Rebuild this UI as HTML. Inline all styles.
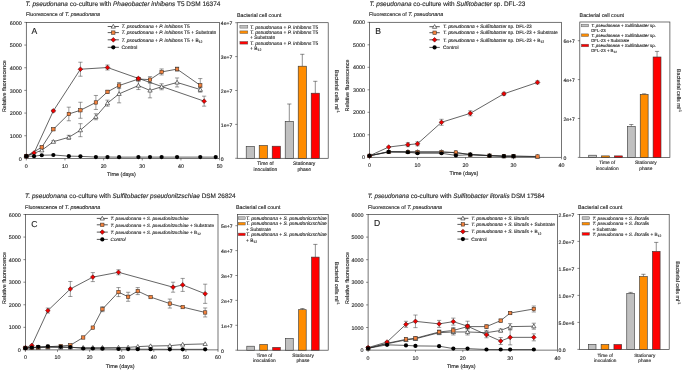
<!DOCTYPE html>
<html><head><meta charset="utf-8"><style>
html,body{margin:0;padding:0;background:#fff;}
body{width:685px;height:370px;overflow:hidden;}
svg{display:block;will-change:transform;}
text{font-family:"Liberation Sans", sans-serif;text-rendering:geometricPrecision;stroke:#333;stroke-width:0.14px;}
</style></head><body>
<svg width="685" height="370" viewBox="0 0 685 370">
<rect width="685" height="370" fill="#fff"/>
<g>
<text x="25.60" y="6.10" font-size="6.44" text-anchor="start" fill="#1a1a1a"><tspan font-style="italic">T. pseudonana</tspan><tspan> co-culture with </tspan><tspan font-style="italic">Phaeobacter inhibens</tspan><tspan> T5 DSM 16374</tspan></text>
<text x="25.90" y="16.40" font-size="5.3" text-anchor="start" fill="#1a1a1a"><tspan>Fluorescence of </tspan><tspan font-style="italic">T. pseudonana</tspan></text>
<text x="237.00" y="17.00" font-size="5.3" text-anchor="start" fill="#1a1a1a"><tspan>Bacterial cell count</tspan></text>
<rect x="26.3" y="22.4" width="193.30" height="136.00" fill="none" stroke="#3a3a3a" stroke-width="0.7"/>
<path d="M24.30,158.40H26.3" stroke="#3a3a3a" stroke-width="0.6"/>
<text x="21.70" y="160.50" font-size="5.4" text-anchor="end" fill="#1a1a1a"><tspan>0</tspan></text>
<path d="M24.30,135.73H26.3" stroke="#3a3a3a" stroke-width="0.6"/>
<text x="21.70" y="137.83" font-size="5.4" text-anchor="end" fill="#1a1a1a"><tspan>1000</tspan></text>
<path d="M24.30,113.07H26.3" stroke="#3a3a3a" stroke-width="0.6"/>
<text x="21.70" y="115.17" font-size="5.4" text-anchor="end" fill="#1a1a1a"><tspan>2000</tspan></text>
<path d="M24.30,90.40H26.3" stroke="#3a3a3a" stroke-width="0.6"/>
<text x="21.70" y="92.50" font-size="5.4" text-anchor="end" fill="#1a1a1a"><tspan>3000</tspan></text>
<path d="M24.30,67.73H26.3" stroke="#3a3a3a" stroke-width="0.6"/>
<text x="21.70" y="69.83" font-size="5.4" text-anchor="end" fill="#1a1a1a"><tspan>4000</tspan></text>
<path d="M24.30,45.07H26.3" stroke="#3a3a3a" stroke-width="0.6"/>
<text x="21.70" y="47.17" font-size="5.4" text-anchor="end" fill="#1a1a1a"><tspan>5000</tspan></text>
<path d="M24.30,22.40H26.3" stroke="#3a3a3a" stroke-width="0.6"/>
<text x="21.70" y="24.50" font-size="5.4" text-anchor="end" fill="#1a1a1a"><tspan>6000</tspan></text>
<path d="M26.30,158.4V160.40" stroke="#3a3a3a" stroke-width="0.6"/>
<text x="26.30" y="167.90" font-size="5.3" text-anchor="middle" fill="#1a1a1a"><tspan>0</tspan></text>
<path d="M64.96,158.4V160.40" stroke="#3a3a3a" stroke-width="0.6"/>
<text x="64.96" y="167.90" font-size="5.3" text-anchor="middle" fill="#1a1a1a"><tspan>10</tspan></text>
<path d="M103.62,158.4V160.40" stroke="#3a3a3a" stroke-width="0.6"/>
<text x="103.62" y="167.90" font-size="5.3" text-anchor="middle" fill="#1a1a1a"><tspan>20</tspan></text>
<path d="M142.28,158.4V160.40" stroke="#3a3a3a" stroke-width="0.6"/>
<text x="142.28" y="167.90" font-size="5.3" text-anchor="middle" fill="#1a1a1a"><tspan>30</tspan></text>
<path d="M180.94,158.4V160.40" stroke="#3a3a3a" stroke-width="0.6"/>
<text x="180.94" y="167.90" font-size="5.3" text-anchor="middle" fill="#1a1a1a"><tspan>40</tspan></text>
<path d="M219.60,158.4V160.40" stroke="#3a3a3a" stroke-width="0.6"/>
<text x="219.60" y="167.90" font-size="5.3" text-anchor="middle" fill="#1a1a1a"><tspan>50</tspan></text>
<text x="121.45" y="176.00" font-size="5.5" text-anchor="middle" fill="#1a1a1a"><tspan>Time (days)</tspan></text>
<text x="0" y="0" font-size="5.45" text-anchor="middle" fill="#1a1a1a" transform="translate(5.90,86.10) rotate(-90)">Relative fluorescence</text>
<text x="31.60" y="34.10" font-size="8.6" text-anchor="start" fill="#1a1a1a"><tspan>A</tspan></text>
<polyline points="26.30,156.13 41.76,150.29 53.36,141.69 68.83,137.30 80.42,130.18 95.89,116.76 107.49,103.16 119.08,93.85 138.41,85.55 150.01,90.45 161.61,86.75 177.07,82.44 200.27,89.54" fill="none" stroke="#222" stroke-width="0.7"/>
<polyline points="26.30,156.13 41.76,147.29 53.36,129.27 68.83,113.97 80.42,110.28 95.89,102.46 107.49,91.85 119.08,85.55 138.41,79.04 150.01,79.63 161.61,71.93 177.07,69.14 200.27,85.35" fill="none" stroke="#222" stroke-width="0.7"/>
<polyline points="26.30,156.13 34.03,152.89 53.36,110.87 80.42,69.23 107.49,67.53 138.41,78.43 204.14,101.17" fill="none" stroke="#222" stroke-width="0.7"/>
<polyline points="26.30,156.20 34.03,156.13 41.76,155.23 53.36,155.00 68.83,156.13 80.42,156.36 95.89,157.04 107.49,157.04 119.08,157.15 138.41,157.11 150.01,157.11 161.61,157.11 177.07,157.11 200.27,157.11 215.73,157.11" fill="none" stroke="#222" stroke-width="0.7"/>
<path d="M53.36,140.69V142.69M51.26,140.69H55.46M51.26,142.69H55.46" stroke="#3a3a3a" stroke-width="0.5" fill="none"/>
<path d="M68.83,135.30V139.30M66.73,135.30H70.93M66.73,139.30H70.93" stroke="#3a3a3a" stroke-width="0.5" fill="none"/>
<path d="M80.42,123.68V136.68M78.32,123.68H82.52M78.32,136.68H82.52" stroke="#3a3a3a" stroke-width="0.5" fill="none"/>
<path d="M95.89,113.76V119.76M93.79,113.76H97.99M93.79,119.76H97.99" stroke="#3a3a3a" stroke-width="0.5" fill="none"/>
<path d="M107.49,100.16V106.16M105.39,100.16H109.59M105.39,106.16H109.59" stroke="#3a3a3a" stroke-width="0.5" fill="none"/>
<path d="M119.08,84.85V102.85M116.98,84.85H121.18M116.98,102.85H121.18" stroke="#3a3a3a" stroke-width="0.5" fill="none"/>
<path d="M138.41,81.55V89.55M136.31,81.55H140.51M136.31,89.55H140.51" stroke="#3a3a3a" stroke-width="0.5" fill="none"/>
<path d="M150.01,83.05V97.85M147.91,83.05H152.11M147.91,97.85H152.11" stroke="#3a3a3a" stroke-width="0.5" fill="none"/>
<path d="M161.61,83.75V89.75M159.51,83.75H163.71M159.51,89.75H163.71" stroke="#3a3a3a" stroke-width="0.5" fill="none"/>
<path d="M177.07,77.94V86.94M174.97,77.94H179.17M174.97,86.94H179.17" stroke="#3a3a3a" stroke-width="0.5" fill="none"/>
<path d="M200.27,87.54V91.54M198.17,87.54H202.37M198.17,91.54H202.37" stroke="#3a3a3a" stroke-width="0.5" fill="none"/>
<path d="M41.76,146.29V148.29M39.66,146.29H43.86M39.66,148.29H43.86" stroke="#3a3a3a" stroke-width="0.5" fill="none"/>
<path d="M53.36,128.27V130.27M51.26,128.27H55.46M51.26,130.27H55.46" stroke="#3a3a3a" stroke-width="0.5" fill="none"/>
<path d="M68.83,107.17V120.77M66.73,107.17H70.93M66.73,120.77H70.93" stroke="#3a3a3a" stroke-width="0.5" fill="none"/>
<path d="M80.42,102.28V118.28M78.32,102.28H82.52M78.32,118.28H82.52" stroke="#3a3a3a" stroke-width="0.5" fill="none"/>
<path d="M95.89,95.46V109.46M93.79,95.46H97.99M93.79,109.46H97.99" stroke="#3a3a3a" stroke-width="0.5" fill="none"/>
<path d="M107.49,90.35V93.35M105.39,90.35H109.59M105.39,93.35H109.59" stroke="#3a3a3a" stroke-width="0.5" fill="none"/>
<path d="M119.08,82.55V88.55M116.98,82.55H121.18M116.98,88.55H121.18" stroke="#3a3a3a" stroke-width="0.5" fill="none"/>
<path d="M138.41,78.04V80.04M136.31,78.04H140.51M136.31,80.04H140.51" stroke="#3a3a3a" stroke-width="0.5" fill="none"/>
<path d="M150.01,76.63V82.63M147.91,76.63H152.11M147.91,82.63H152.11" stroke="#3a3a3a" stroke-width="0.5" fill="none"/>
<path d="M161.61,68.93V74.93M159.51,68.93H163.71M159.51,74.93H163.71" stroke="#3a3a3a" stroke-width="0.5" fill="none"/>
<path d="M177.07,67.14V71.14M174.97,67.14H179.17M174.97,71.14H179.17" stroke="#3a3a3a" stroke-width="0.5" fill="none"/>
<path d="M200.27,78.55V92.15M198.17,78.55H202.37M198.17,92.15H202.37" stroke="#3a3a3a" stroke-width="0.5" fill="none"/>
<path d="M53.36,109.87V111.87M51.26,109.87H55.46M51.26,111.87H55.46" stroke="#3a3a3a" stroke-width="0.5" fill="none"/>
<path d="M80.42,62.23V76.23M78.32,62.23H82.52M78.32,76.23H82.52" stroke="#3a3a3a" stroke-width="0.5" fill="none"/>
<path d="M107.49,65.03V70.03M105.39,65.03H109.59M105.39,70.03H109.59" stroke="#3a3a3a" stroke-width="0.5" fill="none"/>
<path d="M138.41,77.43V79.43M136.31,77.43H140.51M136.31,79.43H140.51" stroke="#3a3a3a" stroke-width="0.5" fill="none"/>
<path d="M204.14,96.17V106.17M202.04,96.17H206.24M202.04,106.17H206.24" stroke="#3a3a3a" stroke-width="0.5" fill="none"/>
<polygon points="26.30,153.98 24.15,157.75 28.45,157.75" fill="#fff" stroke="#222" stroke-width="0.6"/>
<polygon points="41.76,148.14 39.61,151.90 43.91,151.90" fill="#fff" stroke="#222" stroke-width="0.6"/>
<polygon points="53.36,139.54 51.21,143.31 55.51,143.31" fill="#fff" stroke="#222" stroke-width="0.6"/>
<polygon points="68.83,135.15 66.68,138.91 70.98,138.91" fill="#fff" stroke="#222" stroke-width="0.6"/>
<polygon points="80.42,128.03 78.27,131.79 82.57,131.79" fill="#fff" stroke="#222" stroke-width="0.6"/>
<polygon points="95.89,114.61 93.74,118.37 98.04,118.37" fill="#fff" stroke="#222" stroke-width="0.6"/>
<polygon points="107.49,101.01 105.34,104.77 109.64,104.77" fill="#fff" stroke="#222" stroke-width="0.6"/>
<polygon points="119.08,91.70 116.93,95.46 121.23,95.46" fill="#fff" stroke="#222" stroke-width="0.6"/>
<polygon points="138.41,83.40 136.26,87.16 140.56,87.16" fill="#fff" stroke="#222" stroke-width="0.6"/>
<polygon points="150.01,88.30 147.86,92.06 152.16,92.06" fill="#fff" stroke="#222" stroke-width="0.6"/>
<polygon points="161.61,84.60 159.46,88.36 163.76,88.36" fill="#fff" stroke="#222" stroke-width="0.6"/>
<polygon points="177.07,80.29 174.92,84.06 179.22,84.06" fill="#fff" stroke="#222" stroke-width="0.6"/>
<polygon points="200.27,87.39 198.12,91.15 202.42,91.15" fill="#fff" stroke="#222" stroke-width="0.6"/>
<rect x="24.60" y="154.43" width="3.40" height="3.40" fill="#f3833f" stroke="#3a2a20" stroke-width="0.55"/>
<rect x="40.06" y="145.59" width="3.40" height="3.40" fill="#f3833f" stroke="#3a2a20" stroke-width="0.55"/>
<rect x="51.66" y="127.57" width="3.40" height="3.40" fill="#f3833f" stroke="#3a2a20" stroke-width="0.55"/>
<rect x="67.13" y="112.27" width="3.40" height="3.40" fill="#f3833f" stroke="#3a2a20" stroke-width="0.55"/>
<rect x="78.72" y="108.58" width="3.40" height="3.40" fill="#f3833f" stroke="#3a2a20" stroke-width="0.55"/>
<rect x="94.19" y="100.76" width="3.40" height="3.40" fill="#f3833f" stroke="#3a2a20" stroke-width="0.55"/>
<rect x="105.79" y="90.15" width="3.40" height="3.40" fill="#f3833f" stroke="#3a2a20" stroke-width="0.55"/>
<rect x="117.38" y="83.85" width="3.40" height="3.40" fill="#f3833f" stroke="#3a2a20" stroke-width="0.55"/>
<rect x="136.71" y="77.34" width="3.40" height="3.40" fill="#f3833f" stroke="#3a2a20" stroke-width="0.55"/>
<rect x="148.31" y="77.93" width="3.40" height="3.40" fill="#f3833f" stroke="#3a2a20" stroke-width="0.55"/>
<rect x="159.91" y="70.23" width="3.40" height="3.40" fill="#f3833f" stroke="#3a2a20" stroke-width="0.55"/>
<rect x="175.37" y="67.44" width="3.40" height="3.40" fill="#f3833f" stroke="#3a2a20" stroke-width="0.55"/>
<rect x="198.57" y="83.65" width="3.40" height="3.40" fill="#f3833f" stroke="#3a2a20" stroke-width="0.55"/>
<polygon points="26.30,153.78 28.65,156.13 26.30,158.48 23.95,156.13" fill="#f00000" stroke="#3a1010" stroke-width="0.55"/>
<polygon points="34.03,150.54 36.38,152.89 34.03,155.24 31.68,152.89" fill="#f00000" stroke="#3a1010" stroke-width="0.55"/>
<polygon points="53.36,108.52 55.71,110.87 53.36,113.22 51.01,110.87" fill="#f00000" stroke="#3a1010" stroke-width="0.55"/>
<polygon points="80.42,66.88 82.77,69.23 80.42,71.58 78.07,69.23" fill="#f00000" stroke="#3a1010" stroke-width="0.55"/>
<polygon points="107.49,65.18 109.84,67.53 107.49,69.88 105.14,67.53" fill="#f00000" stroke="#3a1010" stroke-width="0.55"/>
<polygon points="138.41,76.08 140.76,78.43 138.41,80.78 136.06,78.43" fill="#f00000" stroke="#3a1010" stroke-width="0.55"/>
<polygon points="204.14,98.82 206.49,101.17 204.14,103.52 201.79,101.17" fill="#f00000" stroke="#3a1010" stroke-width="0.55"/>
<circle cx="26.30" cy="156.20" r="2.1" fill="#000"/>
<circle cx="34.03" cy="156.13" r="2.1" fill="#000"/>
<circle cx="41.76" cy="155.23" r="2.1" fill="#000"/>
<circle cx="53.36" cy="155.00" r="2.1" fill="#000"/>
<circle cx="68.83" cy="156.13" r="2.1" fill="#000"/>
<circle cx="80.42" cy="156.36" r="2.1" fill="#000"/>
<circle cx="95.89" cy="157.04" r="2.1" fill="#000"/>
<circle cx="107.49" cy="157.04" r="2.1" fill="#000"/>
<circle cx="119.08" cy="157.15" r="2.1" fill="#000"/>
<circle cx="138.41" cy="157.11" r="2.1" fill="#000"/>
<circle cx="150.01" cy="157.11" r="2.1" fill="#000"/>
<circle cx="161.61" cy="157.11" r="2.1" fill="#000"/>
<circle cx="177.07" cy="157.11" r="2.1" fill="#000"/>
<circle cx="200.27" cy="157.11" r="2.1" fill="#000"/>
<circle cx="215.73" cy="157.11" r="2.1" fill="#000"/>
<path d="M107.70,26.50H118.90" stroke="#222" stroke-width="0.75"/>
<polygon points="113.30,24.35 111.15,28.11 115.45,28.11" fill="#fff" stroke="#222" stroke-width="0.6"/>
<text x="121.50" y="28.20" font-size="4.9" text-anchor="start" fill="#1a1a1a"><tspan font-style="italic">T. pseudonana</tspan><tspan> + </tspan><tspan font-style="italic">P. inhibens</tspan><tspan> T5</tspan></text>
<path d="M107.70,32.60H118.90" stroke="#222" stroke-width="0.75"/>
<rect x="111.60" y="30.90" width="3.40" height="3.40" fill="#f3833f" stroke="#3a2a20" stroke-width="0.55"/>
<text x="121.50" y="34.30" font-size="4.9" text-anchor="start" fill="#1a1a1a"><tspan font-style="italic">T. pseudonana</tspan><tspan> + </tspan><tspan font-style="italic">P. inhibens</tspan><tspan> T5 + Substrate</tspan></text>
<path d="M107.70,39.80H118.90" stroke="#222" stroke-width="0.75"/>
<polygon points="113.30,37.45 115.65,39.80 113.30,42.15 110.95,39.80" fill="#f00000" stroke="#3a1010" stroke-width="0.55"/>
<text x="121.50" y="41.50" font-size="4.9" text-anchor="start" fill="#1a1a1a"><tspan font-style="italic">T. pseudonana</tspan><tspan> + </tspan><tspan font-style="italic">P. inhibens</tspan><tspan> T5 + B</tspan><tspan font-size="3.43" dy="1.47">12</tspan><tspan dy="-1.47"></tspan></text>
<path d="M107.70,47.30H118.90" stroke="#222" stroke-width="0.75"/>
<circle cx="113.30" cy="47.30" r="2.1" fill="#000"/>
<text x="121.50" y="49.00" font-size="4.9" text-anchor="start" fill="#1a1a1a"><tspan>Control</tspan></text>
<rect x="237.2" y="22.7" width="91.00" height="135.60" fill="none" stroke="#3a3a3a" stroke-width="0.7"/>
<path d="M235.20,158.30H237.2" stroke="#3a3a3a" stroke-width="0.6"/>
<text x="220.80" y="160.60" font-size="5.1" text-anchor="start" fill="#1a1a1a"><tspan>0</tspan></text>
<path d="M235.20,124.40H237.2" stroke="#3a3a3a" stroke-width="0.6"/>
<text x="220.80" y="126.70" font-size="5.1" text-anchor="start" fill="#1a1a1a"><tspan>1e+7</tspan></text>
<path d="M235.20,90.50H237.2" stroke="#3a3a3a" stroke-width="0.6"/>
<text x="220.80" y="92.80" font-size="5.1" text-anchor="start" fill="#1a1a1a"><tspan>2e+7</tspan></text>
<path d="M235.20,56.60H237.2" stroke="#3a3a3a" stroke-width="0.6"/>
<text x="220.80" y="58.90" font-size="5.1" text-anchor="start" fill="#1a1a1a"><tspan>3e+7</tspan></text>
<path d="M235.20,22.70H237.2" stroke="#3a3a3a" stroke-width="0.6"/>
<text x="220.80" y="25.00" font-size="5.1" text-anchor="start" fill="#1a1a1a"><tspan>4e+7</tspan></text>
<rect x="246.20" y="146.40" width="8.2" height="11.90" fill="#c0c0c0" stroke="#333" stroke-width="0.6"/>
<rect x="259.20" y="145.50" width="8.2" height="12.80" fill="#ff8c00" stroke="#333" stroke-width="0.6"/>
<rect x="272.20" y="146.20" width="8.2" height="12.10" fill="#ff0000" stroke="#333" stroke-width="0.6"/>
<path d="M289.30,121.30V104.00M287.20,104.00H291.40" stroke="#333" stroke-width="0.55" fill="none"/>
<rect x="285.20" y="121.30" width="8.2" height="37.00" fill="#c0c0c0" stroke="#333" stroke-width="0.6"/>
<path d="M302.30,66.20V54.30M300.20,54.30H304.40" stroke="#333" stroke-width="0.55" fill="none"/>
<rect x="298.20" y="66.20" width="8.2" height="92.10" fill="#ff8c00" stroke="#333" stroke-width="0.6"/>
<path d="M315.30,93.20V81.30M313.20,81.30H317.40" stroke="#333" stroke-width="0.55" fill="none"/>
<rect x="311.20" y="93.20" width="8.2" height="65.10" fill="#ff0000" stroke="#333" stroke-width="0.6"/>
<text x="265.40" y="165.30" font-size="4.95" text-anchor="middle" fill="#1a1a1a"><tspan>Time of</tspan></text>
<text x="265.40" y="170.60" font-size="4.95" text-anchor="middle" fill="#1a1a1a"><tspan>inoculation</tspan></text>
<text x="304.20" y="165.30" font-size="4.95" text-anchor="middle" fill="#1a1a1a"><tspan>Stationary</tspan></text>
<text x="304.20" y="170.60" font-size="4.95" text-anchor="middle" fill="#1a1a1a"><tspan>phase</tspan></text>
<rect x="239.90" y="25.50" width="7.90" height="2.6" fill="#c0c0c0" stroke="#555" stroke-width="0.45"/>
<text x="250.00" y="28.50" font-size="4.9" text-anchor="start" fill="#1a1a1a"><tspan font-style="italic">T. pseudonana</tspan><tspan> + </tspan><tspan font-style="italic">P. inhibens</tspan><tspan> T5</tspan></text>
<rect x="239.90" y="30.90" width="7.90" height="2.6" fill="#ff8c00" stroke="#555" stroke-width="0.45"/>
<text x="250.00" y="33.90" font-size="4.9" text-anchor="start" fill="#1a1a1a"><tspan font-style="italic">T. pseudonana</tspan><tspan> + </tspan><tspan font-style="italic">P. inhibens</tspan><tspan> T5</tspan></text>
<text x="250.00" y="39.10" font-size="4.9" text-anchor="start" fill="#1a1a1a"><tspan>+ Substrate</tspan></text>
<rect x="239.90" y="41.50" width="7.90" height="2.6" fill="#ff0000" stroke="#555" stroke-width="0.45"/>
<text x="250.00" y="44.50" font-size="4.9" text-anchor="start" fill="#1a1a1a"><tspan font-style="italic">T. pseudonana</tspan><tspan> + </tspan><tspan font-style="italic">P. inhibens</tspan><tspan> T5</tspan></text>
<text x="250.00" y="49.70" font-size="4.9" text-anchor="start" fill="#1a1a1a"><tspan>+ B</tspan><tspan font-size="3.43" dy="1.47">12</tspan><tspan dy="-1.47"></tspan></text>
<text x="0" y="0" font-size="5.3" text-anchor="middle" fill="#1a1a1a" transform="translate(335.30,91.30) rotate(90)">Bacterial cells ml<tspan font-size="3.7" dy="-2">-1</tspan></text>
<text x="369.50" y="5.90" font-size="6.4" text-anchor="start" fill="#1a1a1a"><tspan font-style="italic">T. pseudonana</tspan><tspan> co-culture with </tspan><tspan font-style="italic">Sulfitobacter</tspan><tspan> sp. DFL-23</tspan></text>
<text x="369.10" y="16.40" font-size="5.3" text-anchor="start" fill="#1a1a1a"><tspan>Fluorescence of </tspan><tspan font-style="italic">T. pseudonana</tspan></text>
<text x="579.60" y="17.00" font-size="5.3" text-anchor="start" fill="#1a1a1a"><tspan>Bacterial cell count</tspan></text>
<rect x="369.5" y="22.3" width="192.00" height="135.00" fill="none" stroke="#3a3a3a" stroke-width="0.7"/>
<path d="M367.50,157.30H369.5" stroke="#3a3a3a" stroke-width="0.6"/>
<text x="364.90" y="159.40" font-size="5.4" text-anchor="end" fill="#1a1a1a"><tspan>0</tspan></text>
<path d="M367.50,134.80H369.5" stroke="#3a3a3a" stroke-width="0.6"/>
<text x="364.90" y="136.90" font-size="5.4" text-anchor="end" fill="#1a1a1a"><tspan>1000</tspan></text>
<path d="M367.50,112.30H369.5" stroke="#3a3a3a" stroke-width="0.6"/>
<text x="364.90" y="114.40" font-size="5.4" text-anchor="end" fill="#1a1a1a"><tspan>2000</tspan></text>
<path d="M367.50,89.80H369.5" stroke="#3a3a3a" stroke-width="0.6"/>
<text x="364.90" y="91.90" font-size="5.4" text-anchor="end" fill="#1a1a1a"><tspan>3000</tspan></text>
<path d="M367.50,67.30H369.5" stroke="#3a3a3a" stroke-width="0.6"/>
<text x="364.90" y="69.40" font-size="5.4" text-anchor="end" fill="#1a1a1a"><tspan>4000</tspan></text>
<path d="M367.50,44.80H369.5" stroke="#3a3a3a" stroke-width="0.6"/>
<text x="364.90" y="46.90" font-size="5.4" text-anchor="end" fill="#1a1a1a"><tspan>5000</tspan></text>
<path d="M367.50,22.30H369.5" stroke="#3a3a3a" stroke-width="0.6"/>
<text x="364.90" y="24.40" font-size="5.4" text-anchor="end" fill="#1a1a1a"><tspan>6000</tspan></text>
<path d="M369.50,157.3V159.30" stroke="#3a3a3a" stroke-width="0.6"/>
<text x="369.50" y="166.80" font-size="5.3" text-anchor="middle" fill="#1a1a1a"><tspan>0</tspan></text>
<path d="M417.50,157.3V159.30" stroke="#3a3a3a" stroke-width="0.6"/>
<text x="417.50" y="166.80" font-size="5.3" text-anchor="middle" fill="#1a1a1a"><tspan>10</tspan></text>
<path d="M465.50,157.3V159.30" stroke="#3a3a3a" stroke-width="0.6"/>
<text x="465.50" y="166.80" font-size="5.3" text-anchor="middle" fill="#1a1a1a"><tspan>20</tspan></text>
<path d="M513.50,157.3V159.30" stroke="#3a3a3a" stroke-width="0.6"/>
<text x="513.50" y="166.80" font-size="5.3" text-anchor="middle" fill="#1a1a1a"><tspan>30</tspan></text>
<path d="M561.50,157.3V159.30" stroke="#3a3a3a" stroke-width="0.6"/>
<text x="561.50" y="166.80" font-size="5.3" text-anchor="middle" fill="#1a1a1a"><tspan>40</tspan></text>
<text x="464.00" y="174.90" font-size="5.5" text-anchor="middle" fill="#1a1a1a"><tspan>Time (days)</tspan></text>
<text x="0" y="0" font-size="5.45" text-anchor="middle" fill="#1a1a1a" transform="translate(348.80,85.50) rotate(-90)">Relative fluorescence</text>
<text x="375.20" y="34.40" font-size="8.6" text-anchor="start" fill="#1a1a1a"><tspan>B</tspan></text>
<polyline points="369.50,155.79 388.70,151.56 407.90,151.68 417.50,151.79 441.50,151.79 455.90,152.80 470.30,154.38 489.50,155.50 503.90,156.18 513.50,156.18 537.50,156.62" fill="none" stroke="#222" stroke-width="0.7"/>
<polyline points="369.50,155.79 388.70,152.01 407.90,152.01 417.50,152.24 441.50,152.24 455.90,152.46 470.30,154.71 489.50,155.61 503.90,156.18 513.50,156.18 537.50,156.49" fill="none" stroke="#222" stroke-width="0.7"/>
<polyline points="369.50,155.79 388.70,147.06 407.90,144.70 417.50,143.80 441.50,122.31 470.30,113.31 503.90,93.81 537.50,82.40" fill="none" stroke="#222" stroke-width="0.7"/>
<polyline points="369.50,155.79 388.70,151.90 407.90,152.24 417.50,153.25 441.50,153.25 455.90,155.41 470.30,154.71 489.50,155.73 503.90,156.20 513.50,156.20" fill="none" stroke="#222" stroke-width="0.7"/>
<path d="M407.90,142.70V146.70M405.80,142.70H410.00M405.80,146.70H410.00" stroke="#3a3a3a" stroke-width="0.5" fill="none"/>
<path d="M417.50,141.80V145.80M415.40,141.80H419.60M415.40,145.80H419.60" stroke="#3a3a3a" stroke-width="0.5" fill="none"/>
<path d="M441.50,119.31V125.31M439.40,119.31H443.60M439.40,125.31H443.60" stroke="#3a3a3a" stroke-width="0.5" fill="none"/>
<path d="M470.30,110.81V115.81M468.20,110.81H472.40M468.20,115.81H472.40" stroke="#3a3a3a" stroke-width="0.5" fill="none"/>
<path d="M503.90,92.31V95.31M501.80,92.31H506.00M501.80,95.31H506.00" stroke="#3a3a3a" stroke-width="0.5" fill="none"/>
<path d="M537.50,80.90V83.90M535.40,80.90H539.60M535.40,83.90H539.60" stroke="#3a3a3a" stroke-width="0.5" fill="none"/>
<polygon points="369.50,153.64 367.35,157.41 371.65,157.41" fill="#fff" stroke="#222" stroke-width="0.6"/>
<polygon points="388.70,149.41 386.55,153.18 390.85,153.18" fill="#fff" stroke="#222" stroke-width="0.6"/>
<polygon points="407.90,149.53 405.75,153.29 410.05,153.29" fill="#fff" stroke="#222" stroke-width="0.6"/>
<polygon points="417.50,149.64 415.35,153.40 419.65,153.40" fill="#fff" stroke="#222" stroke-width="0.6"/>
<polygon points="441.50,149.64 439.35,153.40 443.65,153.40" fill="#fff" stroke="#222" stroke-width="0.6"/>
<polygon points="455.90,150.65 453.75,154.41 458.05,154.41" fill="#fff" stroke="#222" stroke-width="0.6"/>
<polygon points="470.30,152.22 468.15,155.99 472.45,155.99" fill="#fff" stroke="#222" stroke-width="0.6"/>
<polygon points="489.50,153.35 487.35,157.11 491.65,157.11" fill="#fff" stroke="#222" stroke-width="0.6"/>
<polygon points="503.90,154.03 501.75,157.79 506.05,157.79" fill="#fff" stroke="#222" stroke-width="0.6"/>
<polygon points="513.50,154.03 511.35,157.79 515.65,157.79" fill="#fff" stroke="#222" stroke-width="0.6"/>
<polygon points="537.50,154.47 535.35,158.24 539.65,158.24" fill="#fff" stroke="#222" stroke-width="0.6"/>
<rect x="367.80" y="154.09" width="3.40" height="3.40" fill="#f3833f" stroke="#3a2a20" stroke-width="0.55"/>
<rect x="387.00" y="150.31" width="3.40" height="3.40" fill="#f3833f" stroke="#3a2a20" stroke-width="0.55"/>
<rect x="406.20" y="150.31" width="3.40" height="3.40" fill="#f3833f" stroke="#3a2a20" stroke-width="0.55"/>
<rect x="415.80" y="150.54" width="3.40" height="3.40" fill="#f3833f" stroke="#3a2a20" stroke-width="0.55"/>
<rect x="439.80" y="150.54" width="3.40" height="3.40" fill="#f3833f" stroke="#3a2a20" stroke-width="0.55"/>
<rect x="454.20" y="150.76" width="3.40" height="3.40" fill="#f3833f" stroke="#3a2a20" stroke-width="0.55"/>
<rect x="468.60" y="153.01" width="3.40" height="3.40" fill="#f3833f" stroke="#3a2a20" stroke-width="0.55"/>
<rect x="487.80" y="153.91" width="3.40" height="3.40" fill="#f3833f" stroke="#3a2a20" stroke-width="0.55"/>
<rect x="502.20" y="154.48" width="3.40" height="3.40" fill="#f3833f" stroke="#3a2a20" stroke-width="0.55"/>
<rect x="511.80" y="154.48" width="3.40" height="3.40" fill="#f3833f" stroke="#3a2a20" stroke-width="0.55"/>
<rect x="535.80" y="154.79" width="3.40" height="3.40" fill="#f3833f" stroke="#3a2a20" stroke-width="0.55"/>
<polygon points="369.50,153.44 371.85,155.79 369.50,158.14 367.15,155.79" fill="#f00000" stroke="#3a1010" stroke-width="0.55"/>
<polygon points="388.70,144.71 391.05,147.06 388.70,149.41 386.35,147.06" fill="#f00000" stroke="#3a1010" stroke-width="0.55"/>
<polygon points="407.90,142.35 410.25,144.70 407.90,147.05 405.55,144.70" fill="#f00000" stroke="#3a1010" stroke-width="0.55"/>
<polygon points="417.50,141.45 419.85,143.80 417.50,146.15 415.15,143.80" fill="#f00000" stroke="#3a1010" stroke-width="0.55"/>
<polygon points="441.50,119.96 443.85,122.31 441.50,124.66 439.15,122.31" fill="#f00000" stroke="#3a1010" stroke-width="0.55"/>
<polygon points="470.30,110.96 472.65,113.31 470.30,115.66 467.95,113.31" fill="#f00000" stroke="#3a1010" stroke-width="0.55"/>
<polygon points="503.90,91.46 506.25,93.81 503.90,96.16 501.55,93.81" fill="#f00000" stroke="#3a1010" stroke-width="0.55"/>
<polygon points="537.50,80.05 539.85,82.40 537.50,84.75 535.15,82.40" fill="#f00000" stroke="#3a1010" stroke-width="0.55"/>
<circle cx="369.50" cy="155.79" r="2.1" fill="#000"/>
<circle cx="388.70" cy="151.90" r="2.1" fill="#000"/>
<circle cx="407.90" cy="152.24" r="2.1" fill="#000"/>
<circle cx="417.50" cy="153.25" r="2.1" fill="#000"/>
<circle cx="441.50" cy="153.25" r="2.1" fill="#000"/>
<circle cx="455.90" cy="155.41" r="2.1" fill="#000"/>
<circle cx="470.30" cy="154.71" r="2.1" fill="#000"/>
<circle cx="489.50" cy="155.73" r="2.1" fill="#000"/>
<circle cx="503.90" cy="156.20" r="2.1" fill="#000"/>
<circle cx="513.50" cy="156.20" r="2.1" fill="#000"/>
<path d="M429.40,26.70H439.80" stroke="#222" stroke-width="0.75"/>
<polygon points="434.60,24.55 432.45,28.31 436.75,28.31" fill="#fff" stroke="#222" stroke-width="0.6"/>
<text x="443.00" y="28.40" font-size="4.8" text-anchor="start" fill="#1a1a1a"><tspan font-style="italic">T. pseudonana</tspan><tspan> + </tspan><tspan font-style="italic">Sulfitobacter</tspan><tspan> sp. DFL-23</tspan></text>
<path d="M429.40,32.70H439.80" stroke="#222" stroke-width="0.75"/>
<rect x="432.90" y="31.00" width="3.40" height="3.40" fill="#f3833f" stroke="#3a2a20" stroke-width="0.55"/>
<text x="443.00" y="34.40" font-size="4.8" text-anchor="start" fill="#1a1a1a"><tspan font-style="italic">T. pseudonana</tspan><tspan> + </tspan><tspan font-style="italic">Sulfitobacter</tspan><tspan> sp. DFL-23 + Substrate</tspan></text>
<path d="M429.40,39.80H439.80" stroke="#222" stroke-width="0.75"/>
<polygon points="434.60,37.45 436.95,39.80 434.60,42.15 432.25,39.80" fill="#f00000" stroke="#3a1010" stroke-width="0.55"/>
<text x="443.00" y="41.50" font-size="4.8" text-anchor="start" fill="#1a1a1a"><tspan font-style="italic">T. pseudonana</tspan><tspan> + </tspan><tspan font-style="italic">Sulfitobacter</tspan><tspan> sp. DFL-23 + B</tspan><tspan font-size="3.36" dy="1.44">12</tspan><tspan dy="-1.44"></tspan></text>
<path d="M429.40,47.40H439.80" stroke="#222" stroke-width="0.75"/>
<circle cx="434.60" cy="47.40" r="2.1" fill="#000"/>
<text x="443.00" y="49.10" font-size="4.8" text-anchor="start" fill="#1a1a1a"><tspan>Control</tspan></text>
<rect x="579.8" y="22.0" width="90.10" height="135.40" fill="none" stroke="#3a3a3a" stroke-width="0.7"/>
<path d="M577.80,157.40H579.8" stroke="#3a3a3a" stroke-width="0.6"/>
<text x="563.40" y="159.70" font-size="5.1" text-anchor="start" fill="#1a1a1a"><tspan>0</tspan></text>
<path d="M577.80,118.50H579.8" stroke="#3a3a3a" stroke-width="0.6"/>
<text x="563.40" y="120.80" font-size="5.1" text-anchor="start" fill="#1a1a1a"><tspan>2e+7</tspan></text>
<path d="M577.80,79.60H579.8" stroke="#3a3a3a" stroke-width="0.6"/>
<text x="563.40" y="81.90" font-size="5.1" text-anchor="start" fill="#1a1a1a"><tspan>4e+7</tspan></text>
<path d="M577.80,40.70H579.8" stroke="#3a3a3a" stroke-width="0.6"/>
<text x="563.40" y="43.00" font-size="5.1" text-anchor="start" fill="#1a1a1a"><tspan>6e+7</tspan></text>
<rect x="588.70" y="155.20" width="7.9" height="2.20" fill="#c0c0c0" stroke="#333" stroke-width="0.6"/>
<rect x="601.58" y="155.90" width="7.9" height="1.50" fill="#ff8c00" stroke="#333" stroke-width="0.6"/>
<rect x="614.46" y="155.90" width="7.9" height="1.50" fill="#ff0000" stroke="#333" stroke-width="0.6"/>
<path d="M631.29,126.50V124.50M629.19,124.50H633.39" stroke="#333" stroke-width="0.55" fill="none"/>
<rect x="627.34" y="126.50" width="7.9" height="30.90" fill="#c0c0c0" stroke="#333" stroke-width="0.6"/>
<path d="M644.17,94.40V93.80M642.07,93.80H646.27" stroke="#333" stroke-width="0.55" fill="none"/>
<rect x="640.22" y="94.40" width="7.9" height="63.00" fill="#ff8c00" stroke="#333" stroke-width="0.6"/>
<path d="M657.05,57.00V51.40M654.95,51.40H659.15" stroke="#333" stroke-width="0.55" fill="none"/>
<rect x="653.10" y="57.00" width="7.9" height="100.40" fill="#ff0000" stroke="#333" stroke-width="0.6"/>
<text x="607.20" y="164.00" font-size="4.8" text-anchor="middle" fill="#1a1a1a"><tspan>Time of</tspan></text>
<text x="607.20" y="169.60" font-size="4.8" text-anchor="middle" fill="#1a1a1a"><tspan>inoculation</tspan></text>
<text x="645.80" y="164.00" font-size="4.8" text-anchor="middle" fill="#1a1a1a"><tspan>Stationary</tspan></text>
<text x="645.80" y="169.60" font-size="4.8" text-anchor="middle" fill="#1a1a1a"><tspan>phase</tspan></text>
<rect x="581.40" y="24.20" width="7.30" height="2.6" fill="#c0c0c0" stroke="#555" stroke-width="0.45"/>
<text x="591.20" y="27.20" font-size="4.35" text-anchor="start" fill="#1a1a1a"><tspan font-style="italic">T. pseudonana</tspan><tspan> + </tspan><tspan font-style="italic">Sulfitobacter</tspan><tspan> sp.</tspan></text>
<text x="591.20" y="32.00" font-size="4.35" text-anchor="start" fill="#1a1a1a"><tspan>DFL-23</tspan></text>
<rect x="581.40" y="33.90" width="7.30" height="2.6" fill="#ff8c00" stroke="#555" stroke-width="0.45"/>
<text x="591.20" y="36.90" font-size="4.35" text-anchor="start" fill="#1a1a1a"><tspan font-style="italic">T. pseudonana</tspan><tspan> + </tspan><tspan font-style="italic">Sulfitobacter</tspan><tspan> sp.</tspan></text>
<text x="591.20" y="41.70" font-size="4.35" text-anchor="start" fill="#1a1a1a"><tspan>DFL-23 + Substrate</tspan></text>
<rect x="581.40" y="44.20" width="7.30" height="2.6" fill="#ff0000" stroke="#555" stroke-width="0.45"/>
<text x="591.20" y="47.20" font-size="4.35" text-anchor="start" fill="#1a1a1a"><tspan font-style="italic">T. pseudonana</tspan><tspan> + </tspan><tspan font-style="italic">Sulfitobacter</tspan><tspan> sp.</tspan></text>
<text x="591.20" y="52.00" font-size="4.35" text-anchor="start" fill="#1a1a1a"><tspan>DFL-23 + B</tspan><tspan font-size="3.04" dy="1.30">12</tspan><tspan dy="-1.30"></tspan></text>
<text x="0" y="0" font-size="5.3" text-anchor="middle" fill="#1a1a1a" transform="translate(677.00,90.50) rotate(90)">Bacterial cells ml<tspan font-size="3.7" dy="-2">-1</tspan></text>
<text x="25.10" y="197.60" font-size="6.45" text-anchor="start" fill="#1a1a1a"><tspan font-style="italic">T. pseudonana</tspan><tspan> co-culture with </tspan><tspan font-style="italic">Sulfitobacter pseudonitzschiae</tspan><tspan> DSM 26824</tspan></text>
<text x="25.10" y="208.70" font-size="5.38" text-anchor="start" fill="#1a1a1a"><tspan>Fluorescence of </tspan><tspan font-style="italic">T. pseudonana</tspan></text>
<text x="236.00" y="208.90" font-size="5.3" text-anchor="start" fill="#1a1a1a"><tspan>Bacterial cell count</tspan></text>
<rect x="25.4" y="214.5" width="192.60" height="135.40" fill="none" stroke="#3a3a3a" stroke-width="0.7"/>
<path d="M23.40,349.90H25.4" stroke="#3a3a3a" stroke-width="0.6"/>
<text x="20.80" y="352.00" font-size="5.4" text-anchor="end" fill="#1a1a1a"><tspan>0</tspan></text>
<path d="M23.40,327.33H25.4" stroke="#3a3a3a" stroke-width="0.6"/>
<text x="20.80" y="329.43" font-size="5.4" text-anchor="end" fill="#1a1a1a"><tspan>1000</tspan></text>
<path d="M23.40,304.77H25.4" stroke="#3a3a3a" stroke-width="0.6"/>
<text x="20.80" y="306.87" font-size="5.4" text-anchor="end" fill="#1a1a1a"><tspan>2000</tspan></text>
<path d="M23.40,282.20H25.4" stroke="#3a3a3a" stroke-width="0.6"/>
<text x="20.80" y="284.30" font-size="5.4" text-anchor="end" fill="#1a1a1a"><tspan>3000</tspan></text>
<path d="M23.40,259.63H25.4" stroke="#3a3a3a" stroke-width="0.6"/>
<text x="20.80" y="261.73" font-size="5.4" text-anchor="end" fill="#1a1a1a"><tspan>4000</tspan></text>
<path d="M23.40,237.07H25.4" stroke="#3a3a3a" stroke-width="0.6"/>
<text x="20.80" y="239.17" font-size="5.4" text-anchor="end" fill="#1a1a1a"><tspan>5000</tspan></text>
<path d="M23.40,214.50H25.4" stroke="#3a3a3a" stroke-width="0.6"/>
<text x="20.80" y="216.60" font-size="5.4" text-anchor="end" fill="#1a1a1a"><tspan>6000</tspan></text>
<path d="M25.40,349.9V351.90" stroke="#3a3a3a" stroke-width="0.6"/>
<text x="25.40" y="359.40" font-size="5.3" text-anchor="middle" fill="#1a1a1a"><tspan>0</tspan></text>
<path d="M57.50,349.9V351.90" stroke="#3a3a3a" stroke-width="0.6"/>
<text x="57.50" y="359.40" font-size="5.3" text-anchor="middle" fill="#1a1a1a"><tspan>10</tspan></text>
<path d="M89.60,349.9V351.90" stroke="#3a3a3a" stroke-width="0.6"/>
<text x="89.60" y="359.40" font-size="5.3" text-anchor="middle" fill="#1a1a1a"><tspan>20</tspan></text>
<path d="M121.70,349.9V351.90" stroke="#3a3a3a" stroke-width="0.6"/>
<text x="121.70" y="359.40" font-size="5.3" text-anchor="middle" fill="#1a1a1a"><tspan>30</tspan></text>
<path d="M153.80,349.9V351.90" stroke="#3a3a3a" stroke-width="0.6"/>
<text x="153.80" y="359.40" font-size="5.3" text-anchor="middle" fill="#1a1a1a"><tspan>40</tspan></text>
<path d="M185.90,349.9V351.90" stroke="#3a3a3a" stroke-width="0.6"/>
<text x="185.90" y="359.40" font-size="5.3" text-anchor="middle" fill="#1a1a1a"><tspan>50</tspan></text>
<path d="M218.00,349.9V351.90" stroke="#3a3a3a" stroke-width="0.6"/>
<text x="218.00" y="359.40" font-size="5.3" text-anchor="middle" fill="#1a1a1a"><tspan>60</tspan></text>
<text x="120.20" y="367.50" font-size="5.5" text-anchor="middle" fill="#1a1a1a"><tspan>Time (days)</tspan></text>
<text x="0" y="0" font-size="5.45" text-anchor="middle" fill="#1a1a1a" transform="translate(5.90,277.90) rotate(-90)">Relative fluorescence</text>
<text x="31.20" y="226.60" font-size="8.6" text-anchor="start" fill="#1a1a1a"><tspan>C</tspan></text>
<polyline points="25.40,347.87 31.82,347.87 38.24,347.64 47.87,347.42 60.71,347.42 70.34,347.42 83.18,347.64 92.81,347.64 102.44,347.64 118.49,347.53 128.12,347.42 137.75,346.61 150.59,346.02 169.85,345.70 182.69,344.51 205.16,343.92" fill="none" stroke="#222" stroke-width="0.7"/>
<polyline points="25.40,347.87 31.82,347.64 38.24,347.42 47.87,346.74 60.71,346.02 70.34,345.21 83.18,337.51 92.81,327.63 102.44,309.17 118.49,292.08 128.12,296.78 137.75,291.09 150.59,297.07 169.85,303.57 182.69,307.07 205.16,312.46" fill="none" stroke="#222" stroke-width="0.7"/>
<polyline points="25.40,347.87 31.82,345.39 47.87,310.57 70.34,288.97 92.81,277.10 118.49,272.27 173.06,287.19 182.69,284.91 205.16,293.78" fill="none" stroke="#222" stroke-width="0.7"/>
<polyline points="25.40,348.21 31.82,347.51 38.24,346.81 47.87,346.40 60.71,346.81 70.34,347.10 83.18,348.50 92.81,348.50 102.44,348.66 118.49,349.00 128.12,349.11 137.75,349.22 150.59,349.22 169.85,349.34 182.69,349.34 205.16,349.34" fill="none" stroke="#222" stroke-width="0.7"/>
<path d="M102.44,306.67V311.67M100.34,306.67H104.54M100.34,311.67H104.54" stroke="#3a3a3a" stroke-width="0.5" fill="none"/>
<path d="M118.49,287.58V296.58M116.39,287.58H120.59M116.39,296.58H120.59" stroke="#3a3a3a" stroke-width="0.5" fill="none"/>
<path d="M128.12,292.28V301.28M126.02,292.28H130.22M126.02,301.28H130.22" stroke="#3a3a3a" stroke-width="0.5" fill="none"/>
<path d="M137.75,287.59V294.59M135.65,287.59H139.85M135.65,294.59H139.85" stroke="#3a3a3a" stroke-width="0.5" fill="none"/>
<path d="M169.85,299.07V308.07M167.75,299.07H171.95M167.75,308.07H171.95" stroke="#3a3a3a" stroke-width="0.5" fill="none"/>
<path d="M205.16,307.96V316.96M203.06,307.96H207.26M203.06,316.96H207.26" stroke="#3a3a3a" stroke-width="0.5" fill="none"/>
<path d="M47.87,308.07V313.07M45.77,308.07H49.97M45.77,313.07H49.97" stroke="#3a3a3a" stroke-width="0.5" fill="none"/>
<path d="M70.34,281.47V296.47M68.24,281.47H72.44M68.24,296.47H72.44" stroke="#3a3a3a" stroke-width="0.5" fill="none"/>
<path d="M92.81,272.60V281.60M90.71,272.60H94.91M90.71,281.60H94.91" stroke="#3a3a3a" stroke-width="0.5" fill="none"/>
<path d="M118.49,269.77V274.77M116.39,269.77H120.59M116.39,274.77H120.59" stroke="#3a3a3a" stroke-width="0.5" fill="none"/>
<path d="M173.06,282.19V292.19M170.96,282.19H175.16M170.96,292.19H175.16" stroke="#3a3a3a" stroke-width="0.5" fill="none"/>
<path d="M182.69,278.41V291.41M180.59,278.41H184.79M180.59,291.41H184.79" stroke="#3a3a3a" stroke-width="0.5" fill="none"/>
<path d="M205.16,284.18V303.38M203.06,284.18H207.26M203.06,303.38H207.26" stroke="#3a3a3a" stroke-width="0.5" fill="none"/>
<polygon points="25.40,345.72 23.25,349.48 27.55,349.48" fill="#fff" stroke="#222" stroke-width="0.6"/>
<polygon points="31.82,345.72 29.67,349.48 33.97,349.48" fill="#fff" stroke="#222" stroke-width="0.6"/>
<polygon points="38.24,345.49 36.09,349.26 40.39,349.26" fill="#fff" stroke="#222" stroke-width="0.6"/>
<polygon points="47.87,345.27 45.72,349.03 50.02,349.03" fill="#fff" stroke="#222" stroke-width="0.6"/>
<polygon points="60.71,345.27 58.56,349.03 62.86,349.03" fill="#fff" stroke="#222" stroke-width="0.6"/>
<polygon points="70.34,345.27 68.19,349.03 72.49,349.03" fill="#fff" stroke="#222" stroke-width="0.6"/>
<polygon points="83.18,345.49 81.03,349.26 85.33,349.26" fill="#fff" stroke="#222" stroke-width="0.6"/>
<polygon points="92.81,345.49 90.66,349.26 94.96,349.26" fill="#fff" stroke="#222" stroke-width="0.6"/>
<polygon points="102.44,345.49 100.29,349.26 104.59,349.26" fill="#fff" stroke="#222" stroke-width="0.6"/>
<polygon points="118.49,345.38 116.34,349.14 120.64,349.14" fill="#fff" stroke="#222" stroke-width="0.6"/>
<polygon points="128.12,345.27 125.97,349.03 130.27,349.03" fill="#fff" stroke="#222" stroke-width="0.6"/>
<polygon points="137.75,344.46 135.60,348.22 139.90,348.22" fill="#fff" stroke="#222" stroke-width="0.6"/>
<polygon points="150.59,343.87 148.44,347.63 152.74,347.63" fill="#fff" stroke="#222" stroke-width="0.6"/>
<polygon points="169.85,343.55 167.70,347.32 172.00,347.32" fill="#fff" stroke="#222" stroke-width="0.6"/>
<polygon points="182.69,342.36 180.54,346.12 184.84,346.12" fill="#fff" stroke="#222" stroke-width="0.6"/>
<polygon points="205.16,341.77 203.01,345.53 207.31,345.53" fill="#fff" stroke="#222" stroke-width="0.6"/>
<rect x="23.70" y="346.17" width="3.40" height="3.40" fill="#f3833f" stroke="#3a2a20" stroke-width="0.55"/>
<rect x="30.12" y="345.94" width="3.40" height="3.40" fill="#f3833f" stroke="#3a2a20" stroke-width="0.55"/>
<rect x="36.54" y="345.72" width="3.40" height="3.40" fill="#f3833f" stroke="#3a2a20" stroke-width="0.55"/>
<rect x="46.17" y="345.04" width="3.40" height="3.40" fill="#f3833f" stroke="#3a2a20" stroke-width="0.55"/>
<rect x="59.01" y="344.32" width="3.40" height="3.40" fill="#f3833f" stroke="#3a2a20" stroke-width="0.55"/>
<rect x="68.64" y="343.51" width="3.40" height="3.40" fill="#f3833f" stroke="#3a2a20" stroke-width="0.55"/>
<rect x="81.48" y="335.81" width="3.40" height="3.40" fill="#f3833f" stroke="#3a2a20" stroke-width="0.55"/>
<rect x="91.11" y="325.93" width="3.40" height="3.40" fill="#f3833f" stroke="#3a2a20" stroke-width="0.55"/>
<rect x="100.74" y="307.47" width="3.40" height="3.40" fill="#f3833f" stroke="#3a2a20" stroke-width="0.55"/>
<rect x="116.79" y="290.38" width="3.40" height="3.40" fill="#f3833f" stroke="#3a2a20" stroke-width="0.55"/>
<rect x="126.42" y="295.08" width="3.40" height="3.40" fill="#f3833f" stroke="#3a2a20" stroke-width="0.55"/>
<rect x="136.05" y="289.39" width="3.40" height="3.40" fill="#f3833f" stroke="#3a2a20" stroke-width="0.55"/>
<rect x="148.89" y="295.37" width="3.40" height="3.40" fill="#f3833f" stroke="#3a2a20" stroke-width="0.55"/>
<rect x="168.15" y="301.87" width="3.40" height="3.40" fill="#f3833f" stroke="#3a2a20" stroke-width="0.55"/>
<rect x="180.99" y="305.37" width="3.40" height="3.40" fill="#f3833f" stroke="#3a2a20" stroke-width="0.55"/>
<rect x="203.46" y="310.76" width="3.40" height="3.40" fill="#f3833f" stroke="#3a2a20" stroke-width="0.55"/>
<polygon points="25.40,345.52 27.75,347.87 25.40,350.22 23.05,347.87" fill="#f00000" stroke="#3a1010" stroke-width="0.55"/>
<polygon points="31.82,343.04 34.17,345.39 31.82,347.74 29.47,345.39" fill="#f00000" stroke="#3a1010" stroke-width="0.55"/>
<polygon points="47.87,308.22 50.22,310.57 47.87,312.92 45.52,310.57" fill="#f00000" stroke="#3a1010" stroke-width="0.55"/>
<polygon points="70.34,286.62 72.69,288.97 70.34,291.32 67.99,288.97" fill="#f00000" stroke="#3a1010" stroke-width="0.55"/>
<polygon points="92.81,274.75 95.16,277.10 92.81,279.45 90.46,277.10" fill="#f00000" stroke="#3a1010" stroke-width="0.55"/>
<polygon points="118.49,269.92 120.84,272.27 118.49,274.62 116.14,272.27" fill="#f00000" stroke="#3a1010" stroke-width="0.55"/>
<polygon points="173.06,284.84 175.41,287.19 173.06,289.54 170.71,287.19" fill="#f00000" stroke="#3a1010" stroke-width="0.55"/>
<polygon points="182.69,282.56 185.04,284.91 182.69,287.26 180.34,284.91" fill="#f00000" stroke="#3a1010" stroke-width="0.55"/>
<polygon points="205.16,291.43 207.51,293.78 205.16,296.13 202.81,293.78" fill="#f00000" stroke="#3a1010" stroke-width="0.55"/>
<circle cx="25.40" cy="348.21" r="2.1" fill="#000"/>
<circle cx="31.82" cy="347.51" r="2.1" fill="#000"/>
<circle cx="38.24" cy="346.81" r="2.1" fill="#000"/>
<circle cx="47.87" cy="346.40" r="2.1" fill="#000"/>
<circle cx="60.71" cy="346.81" r="2.1" fill="#000"/>
<circle cx="70.34" cy="347.10" r="2.1" fill="#000"/>
<circle cx="83.18" cy="348.50" r="2.1" fill="#000"/>
<circle cx="92.81" cy="348.50" r="2.1" fill="#000"/>
<circle cx="102.44" cy="348.66" r="2.1" fill="#000"/>
<circle cx="118.49" cy="349.00" r="2.1" fill="#000"/>
<circle cx="128.12" cy="349.11" r="2.1" fill="#000"/>
<circle cx="137.75" cy="349.22" r="2.1" fill="#000"/>
<circle cx="150.59" cy="349.22" r="2.1" fill="#000"/>
<circle cx="169.85" cy="349.34" r="2.1" fill="#000"/>
<circle cx="182.69" cy="349.34" r="2.1" fill="#000"/>
<circle cx="205.16" cy="349.34" r="2.1" fill="#000"/>
<path d="M96.80,218.40H107.80" stroke="#222" stroke-width="0.75"/>
<polygon points="102.30,216.25 100.15,220.01 104.45,220.01" fill="#fff" stroke="#222" stroke-width="0.6"/>
<text x="110.50" y="220.10" font-size="4.7" text-anchor="start" fill="#1a1a1a"><tspan font-style="italic">T. pseudonana</tspan><tspan> + </tspan><tspan font-style="italic">S. pseudonitzschiae</tspan></text>
<path d="M96.80,224.80H107.80" stroke="#222" stroke-width="0.75"/>
<rect x="100.60" y="223.10" width="3.40" height="3.40" fill="#f3833f" stroke="#3a2a20" stroke-width="0.55"/>
<text x="110.50" y="226.50" font-size="4.7" text-anchor="start" fill="#1a1a1a"><tspan font-style="italic">T. pseudonana</tspan><tspan> + </tspan><tspan font-style="italic">S. pseudonitzschiae</tspan><tspan> + Substrate</tspan></text>
<path d="M96.80,232.10H107.80" stroke="#222" stroke-width="0.75"/>
<polygon points="102.30,229.75 104.65,232.10 102.30,234.45 99.95,232.10" fill="#f00000" stroke="#3a1010" stroke-width="0.55"/>
<text x="110.50" y="233.80" font-size="4.7" text-anchor="start" fill="#1a1a1a"><tspan font-style="italic">T. pseudonana</tspan><tspan> + </tspan><tspan font-style="italic">S. pseudonitzschiae</tspan><tspan> + B</tspan><tspan font-size="3.29" dy="1.41">12</tspan><tspan dy="-1.41"></tspan></text>
<path d="M96.80,239.40H107.80" stroke="#222" stroke-width="0.75"/>
<circle cx="102.30" cy="239.40" r="2.1" fill="#000"/>
<text x="110.50" y="241.10" font-size="4.7" text-anchor="start" fill="#1a1a1a"><tspan font-style="italic">Control</tspan></text>
<rect x="237.4" y="214.5" width="90.80" height="135.70" fill="none" stroke="#3a3a3a" stroke-width="0.7"/>
<path d="M235.40,350.20H237.4" stroke="#3a3a3a" stroke-width="0.6"/>
<text x="221.10" y="352.50" font-size="5.1" text-anchor="start" fill="#1a1a1a"><tspan>0</tspan></text>
<path d="M235.40,325.30H237.4" stroke="#3a3a3a" stroke-width="0.6"/>
<text x="221.10" y="327.60" font-size="5.1" text-anchor="start" fill="#1a1a1a"><tspan>1e+7</tspan></text>
<path d="M235.40,300.40H237.4" stroke="#3a3a3a" stroke-width="0.6"/>
<text x="221.10" y="302.70" font-size="5.1" text-anchor="start" fill="#1a1a1a"><tspan>2e+7</tspan></text>
<path d="M235.40,275.50H237.4" stroke="#3a3a3a" stroke-width="0.6"/>
<text x="221.10" y="277.80" font-size="5.1" text-anchor="start" fill="#1a1a1a"><tspan>3e+7</tspan></text>
<path d="M235.40,250.60H237.4" stroke="#3a3a3a" stroke-width="0.6"/>
<text x="221.10" y="252.90" font-size="5.1" text-anchor="start" fill="#1a1a1a"><tspan>4e+7</tspan></text>
<path d="M235.40,225.70H237.4" stroke="#3a3a3a" stroke-width="0.6"/>
<text x="221.10" y="228.00" font-size="5.1" text-anchor="start" fill="#1a1a1a"><tspan>5e+7</tspan></text>
<rect x="246.80" y="346.20" width="7.6" height="4.00" fill="#c0c0c0" stroke="#333" stroke-width="0.6"/>
<rect x="259.75" y="344.50" width="7.6" height="5.70" fill="#ff8c00" stroke="#333" stroke-width="0.6"/>
<rect x="272.70" y="347.40" width="7.6" height="2.80" fill="#ff0000" stroke="#333" stroke-width="0.6"/>
<rect x="285.65" y="338.40" width="7.6" height="11.80" fill="#c0c0c0" stroke="#333" stroke-width="0.6"/>
<path d="M302.40,309.70V308.50M300.30,308.50H304.50" stroke="#333" stroke-width="0.55" fill="none"/>
<rect x="298.60" y="309.70" width="7.6" height="40.50" fill="#ff8c00" stroke="#333" stroke-width="0.6"/>
<path d="M315.35,257.10V244.40M313.25,244.40H317.45" stroke="#333" stroke-width="0.55" fill="none"/>
<rect x="311.55" y="257.10" width="7.6" height="93.10" fill="#ff0000" stroke="#333" stroke-width="0.6"/>
<text x="264.30" y="357.00" font-size="4.8" text-anchor="middle" fill="#1a1a1a"><tspan>Time of</tspan></text>
<text x="264.30" y="362.00" font-size="4.8" text-anchor="middle" fill="#1a1a1a"><tspan>inoculation</tspan></text>
<text x="303.00" y="357.00" font-size="4.8" text-anchor="middle" fill="#1a1a1a"><tspan>Stationary</tspan></text>
<text x="303.00" y="362.00" font-size="4.8" text-anchor="middle" fill="#1a1a1a"><tspan>phase</tspan></text>
<rect x="238.20" y="216.80" width="7.00" height="2.6" fill="#c0c0c0" stroke="#555" stroke-width="0.45"/>
<text x="246.10" y="219.80" font-size="4.84" text-anchor="start" fill="#1a1a1a"><tspan font-style="italic">T. pseudonana</tspan><tspan> + </tspan><tspan font-style="italic">S. pseudonitzschiae</tspan></text>
<rect x="238.20" y="222.40" width="7.00" height="2.6" fill="#ff8c00" stroke="#555" stroke-width="0.45"/>
<text x="246.10" y="225.40" font-size="4.84" text-anchor="start" fill="#1a1a1a"><tspan font-style="italic">T. pseudonana</tspan><tspan> + </tspan><tspan font-style="italic">S. pseudonitzschiae</tspan></text>
<text x="246.10" y="230.80" font-size="4.84" text-anchor="start" fill="#1a1a1a"><tspan>+ Substrate</tspan></text>
<rect x="238.20" y="233.10" width="7.00" height="2.6" fill="#ff0000" stroke="#555" stroke-width="0.45"/>
<text x="246.10" y="236.10" font-size="4.84" text-anchor="start" fill="#1a1a1a"><tspan font-style="italic">T. pseudonana</tspan><tspan> + </tspan><tspan font-style="italic">S. pseudonitzschiae</tspan></text>
<text x="246.10" y="241.50" font-size="4.84" text-anchor="start" fill="#1a1a1a"><tspan>+ B</tspan><tspan font-size="3.39" dy="1.45">12</tspan><tspan dy="-1.45"></tspan></text>
<text x="0" y="0" font-size="5.3" text-anchor="middle" fill="#1a1a1a" transform="translate(335.30,283.15) rotate(90)">Bacterial cells ml<tspan font-size="3.7" dy="-2">-1</tspan></text>
<text x="367.70" y="197.60" font-size="6.3" text-anchor="start" fill="#1a1a1a"><tspan font-style="italic">T. pseudonana</tspan><tspan> co-culture with </tspan><tspan font-style="italic">Sulfitobacter litoralis</tspan><tspan> DSM 17584</tspan></text>
<text x="368.00" y="208.60" font-size="5.3" text-anchor="start" fill="#1a1a1a"><tspan>Fluorescence of </tspan><tspan font-style="italic">T. pseudonana</tspan></text>
<text x="578.00" y="208.90" font-size="5.3" text-anchor="start" fill="#1a1a1a"><tspan>Bacterial cell count</tspan></text>
<rect x="368.1" y="214.5" width="189.40" height="135.60" fill="none" stroke="#3a3a3a" stroke-width="0.7"/>
<path d="M366.10,350.10H368.1" stroke="#3a3a3a" stroke-width="0.6"/>
<text x="363.50" y="352.20" font-size="5.4" text-anchor="end" fill="#1a1a1a"><tspan>0</tspan></text>
<path d="M366.10,327.50H368.1" stroke="#3a3a3a" stroke-width="0.6"/>
<text x="363.50" y="329.60" font-size="5.4" text-anchor="end" fill="#1a1a1a"><tspan>1000</tspan></text>
<path d="M366.10,304.90H368.1" stroke="#3a3a3a" stroke-width="0.6"/>
<text x="363.50" y="307.00" font-size="5.4" text-anchor="end" fill="#1a1a1a"><tspan>2000</tspan></text>
<path d="M366.10,282.30H368.1" stroke="#3a3a3a" stroke-width="0.6"/>
<text x="363.50" y="284.40" font-size="5.4" text-anchor="end" fill="#1a1a1a"><tspan>3000</tspan></text>
<path d="M366.10,259.70H368.1" stroke="#3a3a3a" stroke-width="0.6"/>
<text x="363.50" y="261.80" font-size="5.4" text-anchor="end" fill="#1a1a1a"><tspan>4000</tspan></text>
<path d="M366.10,237.10H368.1" stroke="#3a3a3a" stroke-width="0.6"/>
<text x="363.50" y="239.20" font-size="5.4" text-anchor="end" fill="#1a1a1a"><tspan>5000</tspan></text>
<path d="M366.10,214.50H368.1" stroke="#3a3a3a" stroke-width="0.6"/>
<text x="363.50" y="216.60" font-size="5.4" text-anchor="end" fill="#1a1a1a"><tspan>6000</tspan></text>
<path d="M368.10,350.1V352.10" stroke="#3a3a3a" stroke-width="0.6"/>
<text x="368.10" y="359.60" font-size="5.3" text-anchor="middle" fill="#1a1a1a"><tspan>0</tspan></text>
<path d="M415.45,350.1V352.10" stroke="#3a3a3a" stroke-width="0.6"/>
<text x="415.45" y="359.60" font-size="5.3" text-anchor="middle" fill="#1a1a1a"><tspan>10</tspan></text>
<path d="M462.80,350.1V352.10" stroke="#3a3a3a" stroke-width="0.6"/>
<text x="462.80" y="359.60" font-size="5.3" text-anchor="middle" fill="#1a1a1a"><tspan>20</tspan></text>
<path d="M510.15,350.1V352.10" stroke="#3a3a3a" stroke-width="0.6"/>
<text x="510.15" y="359.60" font-size="5.3" text-anchor="middle" fill="#1a1a1a"><tspan>30</tspan></text>
<path d="M557.50,350.1V352.10" stroke="#3a3a3a" stroke-width="0.6"/>
<text x="557.50" y="359.60" font-size="5.3" text-anchor="middle" fill="#1a1a1a"><tspan>40</tspan></text>
<text x="461.30" y="367.70" font-size="5.5" text-anchor="middle" fill="#1a1a1a"><tspan>Time (days)</tspan></text>
<text x="0" y="0" font-size="5.45" text-anchor="middle" fill="#1a1a1a" transform="translate(349.00,278.00) rotate(-90)">Relative fluorescence</text>
<text x="374.00" y="226.30" font-size="8.6" text-anchor="start" fill="#1a1a1a"><tspan>D</tspan></text>
<polyline points="368.10,348.29 387.04,343.77 405.98,339.93 415.45,338.80 439.12,332.68 453.33,331.97 467.54,331.97 486.48,332.68 500.68,330.48 510.15,326.60 533.83,326.21" fill="none" stroke="#222" stroke-width="0.7"/>
<polyline points="368.10,348.29 387.04,343.32 405.98,339.34 415.45,338.26 439.12,331.97 453.33,330.48 467.54,326.60 486.48,326.60 500.68,320.63 510.15,313.06 533.83,308.99" fill="none" stroke="#222" stroke-width="0.7"/>
<polyline points="368.10,347.61 387.04,342.03 405.98,324.31 415.45,321.33 439.12,323.88 453.33,321.62 467.54,326.21 486.48,334.78 500.68,341.04 510.15,337.35 533.83,337.35" fill="none" stroke="#222" stroke-width="0.7"/>
<polyline points="368.10,348.29 387.04,344.83 405.98,345.42 415.45,345.92 439.12,346.15 453.33,348.61 467.54,348.61 486.48,349.51 500.68,349.51 510.15,349.51 533.83,349.51" fill="none" stroke="#222" stroke-width="0.7"/>
<path d="M415.45,337.30V340.30M413.35,337.30H417.55M413.35,340.30H417.55" stroke="#3a3a3a" stroke-width="0.5" fill="none"/>
<path d="M439.12,330.68V334.68M437.02,330.68H441.23M437.02,334.68H441.23" stroke="#3a3a3a" stroke-width="0.5" fill="none"/>
<path d="M453.33,328.97V334.97M451.23,328.97H455.43M451.23,334.97H455.43" stroke="#3a3a3a" stroke-width="0.5" fill="none"/>
<path d="M467.54,328.97V334.97M465.44,328.97H469.64M465.44,334.97H469.64" stroke="#3a3a3a" stroke-width="0.5" fill="none"/>
<path d="M486.48,330.68V334.68M484.38,330.68H488.58M484.38,334.68H488.58" stroke="#3a3a3a" stroke-width="0.5" fill="none"/>
<path d="M500.68,328.98V331.98M498.58,328.98H502.78M498.58,331.98H502.78" stroke="#3a3a3a" stroke-width="0.5" fill="none"/>
<path d="M510.15,323.60V329.60M508.05,323.60H512.25M508.05,329.60H512.25" stroke="#3a3a3a" stroke-width="0.5" fill="none"/>
<path d="M533.83,323.21V329.21M531.73,323.21H535.93M531.73,329.21H535.93" stroke="#3a3a3a" stroke-width="0.5" fill="none"/>
<path d="M405.98,337.84V340.84M403.88,337.84H408.08M403.88,340.84H408.08" stroke="#3a3a3a" stroke-width="0.5" fill="none"/>
<path d="M415.45,336.76V339.76M413.35,336.76H417.55M413.35,339.76H417.55" stroke="#3a3a3a" stroke-width="0.5" fill="none"/>
<path d="M439.12,329.97V333.97M437.02,329.97H441.23M437.02,333.97H441.23" stroke="#3a3a3a" stroke-width="0.5" fill="none"/>
<path d="M453.33,327.48V333.48M451.23,327.48H455.43M451.23,333.48H455.43" stroke="#3a3a3a" stroke-width="0.5" fill="none"/>
<path d="M467.54,324.60V328.60M465.44,324.60H469.64M465.44,328.60H469.64" stroke="#3a3a3a" stroke-width="0.5" fill="none"/>
<path d="M486.48,324.60V328.60M484.38,324.60H488.58M484.38,328.60H488.58" stroke="#3a3a3a" stroke-width="0.5" fill="none"/>
<path d="M500.68,319.13V322.13M498.58,319.13H502.78M498.58,322.13H502.78" stroke="#3a3a3a" stroke-width="0.5" fill="none"/>
<path d="M510.15,312.06V314.06M508.05,312.06H512.25M508.05,314.06H512.25" stroke="#3a3a3a" stroke-width="0.5" fill="none"/>
<path d="M533.83,305.99V311.99M531.73,305.99H535.93M531.73,311.99H535.93" stroke="#3a3a3a" stroke-width="0.5" fill="none"/>
<path d="M405.98,321.31V327.31M403.88,321.31H408.08M403.88,327.31H408.08" stroke="#3a3a3a" stroke-width="0.5" fill="none"/>
<path d="M415.45,315.03V327.63M413.35,315.03H417.55M413.35,327.63H417.55" stroke="#3a3a3a" stroke-width="0.5" fill="none"/>
<path d="M439.12,320.38V327.38M437.02,320.38H441.23M437.02,327.38H441.23" stroke="#3a3a3a" stroke-width="0.5" fill="none"/>
<path d="M453.33,318.12V325.12M451.23,318.12H455.43M451.23,325.12H455.43" stroke="#3a3a3a" stroke-width="0.5" fill="none"/>
<path d="M467.54,321.21V331.21M465.44,321.21H469.64M465.44,331.21H469.64" stroke="#3a3a3a" stroke-width="0.5" fill="none"/>
<path d="M486.48,331.78V337.78M484.38,331.78H488.58M484.38,337.78H488.58" stroke="#3a3a3a" stroke-width="0.5" fill="none"/>
<path d="M500.68,337.54V344.54M498.58,337.54H502.78M498.58,344.54H502.78" stroke="#3a3a3a" stroke-width="0.5" fill="none"/>
<path d="M510.15,329.85V344.85M508.05,329.85H512.25M508.05,344.85H512.25" stroke="#3a3a3a" stroke-width="0.5" fill="none"/>
<path d="M533.83,333.85V340.85M531.73,333.85H535.93M531.73,340.85H535.93" stroke="#3a3a3a" stroke-width="0.5" fill="none"/>
<polygon points="368.10,346.14 365.95,349.90 370.25,349.90" fill="#fff" stroke="#222" stroke-width="0.6"/>
<polygon points="387.04,341.62 384.89,345.38 389.19,345.38" fill="#fff" stroke="#222" stroke-width="0.6"/>
<polygon points="405.98,337.78 403.83,341.54 408.13,341.54" fill="#fff" stroke="#222" stroke-width="0.6"/>
<polygon points="415.45,336.65 413.30,340.41 417.60,340.41" fill="#fff" stroke="#222" stroke-width="0.6"/>
<polygon points="439.12,330.53 436.98,334.29 441.27,334.29" fill="#fff" stroke="#222" stroke-width="0.6"/>
<polygon points="453.33,329.82 451.18,333.59 455.48,333.59" fill="#fff" stroke="#222" stroke-width="0.6"/>
<polygon points="467.54,329.82 465.39,333.59 469.69,333.59" fill="#fff" stroke="#222" stroke-width="0.6"/>
<polygon points="486.48,330.53 484.33,334.29 488.62,334.29" fill="#fff" stroke="#222" stroke-width="0.6"/>
<polygon points="500.68,328.33 498.53,332.10 502.83,332.10" fill="#fff" stroke="#222" stroke-width="0.6"/>
<polygon points="510.15,324.45 508.00,328.21 512.30,328.21" fill="#fff" stroke="#222" stroke-width="0.6"/>
<polygon points="533.83,324.06 531.68,327.82 535.98,327.82" fill="#fff" stroke="#222" stroke-width="0.6"/>
<rect x="366.40" y="346.59" width="3.40" height="3.40" fill="#f3833f" stroke="#3a2a20" stroke-width="0.55"/>
<rect x="385.34" y="341.62" width="3.40" height="3.40" fill="#f3833f" stroke="#3a2a20" stroke-width="0.55"/>
<rect x="404.28" y="337.64" width="3.40" height="3.40" fill="#f3833f" stroke="#3a2a20" stroke-width="0.55"/>
<rect x="413.75" y="336.56" width="3.40" height="3.40" fill="#f3833f" stroke="#3a2a20" stroke-width="0.55"/>
<rect x="437.43" y="330.27" width="3.40" height="3.40" fill="#f3833f" stroke="#3a2a20" stroke-width="0.55"/>
<rect x="451.63" y="328.78" width="3.40" height="3.40" fill="#f3833f" stroke="#3a2a20" stroke-width="0.55"/>
<rect x="465.84" y="324.90" width="3.40" height="3.40" fill="#f3833f" stroke="#3a2a20" stroke-width="0.55"/>
<rect x="484.78" y="324.90" width="3.40" height="3.40" fill="#f3833f" stroke="#3a2a20" stroke-width="0.55"/>
<rect x="498.98" y="318.93" width="3.40" height="3.40" fill="#f3833f" stroke="#3a2a20" stroke-width="0.55"/>
<rect x="508.45" y="311.36" width="3.40" height="3.40" fill="#f3833f" stroke="#3a2a20" stroke-width="0.55"/>
<rect x="532.12" y="307.29" width="3.40" height="3.40" fill="#f3833f" stroke="#3a2a20" stroke-width="0.55"/>
<polygon points="368.10,345.26 370.45,347.61 368.10,349.96 365.75,347.61" fill="#f00000" stroke="#3a1010" stroke-width="0.55"/>
<polygon points="387.04,339.68 389.39,342.03 387.04,344.38 384.69,342.03" fill="#f00000" stroke="#3a1010" stroke-width="0.55"/>
<polygon points="405.98,321.96 408.33,324.31 405.98,326.66 403.63,324.31" fill="#f00000" stroke="#3a1010" stroke-width="0.55"/>
<polygon points="415.45,318.98 417.80,321.33 415.45,323.68 413.10,321.33" fill="#f00000" stroke="#3a1010" stroke-width="0.55"/>
<polygon points="439.12,321.53 441.48,323.88 439.12,326.23 436.77,323.88" fill="#f00000" stroke="#3a1010" stroke-width="0.55"/>
<polygon points="453.33,319.27 455.68,321.62 453.33,323.97 450.98,321.62" fill="#f00000" stroke="#3a1010" stroke-width="0.55"/>
<polygon points="467.54,323.86 469.89,326.21 467.54,328.56 465.19,326.21" fill="#f00000" stroke="#3a1010" stroke-width="0.55"/>
<polygon points="486.48,332.43 488.83,334.78 486.48,337.13 484.12,334.78" fill="#f00000" stroke="#3a1010" stroke-width="0.55"/>
<polygon points="500.68,338.69 503.03,341.04 500.68,343.39 498.33,341.04" fill="#f00000" stroke="#3a1010" stroke-width="0.55"/>
<polygon points="510.15,335.00 512.50,337.35 510.15,339.70 507.80,337.35" fill="#f00000" stroke="#3a1010" stroke-width="0.55"/>
<polygon points="533.83,335.00 536.18,337.35 533.83,339.70 531.48,337.35" fill="#f00000" stroke="#3a1010" stroke-width="0.55"/>
<circle cx="368.10" cy="348.29" r="2.1" fill="#000"/>
<circle cx="387.04" cy="344.83" r="2.1" fill="#000"/>
<circle cx="405.98" cy="345.42" r="2.1" fill="#000"/>
<circle cx="415.45" cy="345.92" r="2.1" fill="#000"/>
<circle cx="439.12" cy="346.15" r="2.1" fill="#000"/>
<circle cx="453.33" cy="348.61" r="2.1" fill="#000"/>
<circle cx="467.54" cy="348.61" r="2.1" fill="#000"/>
<circle cx="486.48" cy="349.51" r="2.1" fill="#000"/>
<circle cx="500.68" cy="349.51" r="2.1" fill="#000"/>
<circle cx="510.15" cy="349.51" r="2.1" fill="#000"/>
<circle cx="533.83" cy="349.51" r="2.1" fill="#000"/>
<path d="M457.40,218.30H468.40" stroke="#222" stroke-width="0.75"/>
<polygon points="462.90,216.15 460.75,219.91 465.05,219.91" fill="#fff" stroke="#222" stroke-width="0.6"/>
<text x="471.20" y="220.00" font-size="4.8" text-anchor="start" fill="#1a1a1a"><tspan font-style="italic">T. pseudonana</tspan><tspan> + </tspan><tspan font-style="italic">S. litoralis</tspan></text>
<path d="M457.40,224.40H468.40" stroke="#222" stroke-width="0.75"/>
<rect x="461.20" y="222.70" width="3.40" height="3.40" fill="#f3833f" stroke="#3a2a20" stroke-width="0.55"/>
<text x="471.20" y="226.10" font-size="4.8" text-anchor="start" fill="#1a1a1a"><tspan font-style="italic">T. pseudonana</tspan><tspan> + </tspan><tspan font-style="italic">S. litoralis</tspan><tspan> + Substrate</tspan></text>
<path d="M457.40,231.60H468.40" stroke="#222" stroke-width="0.75"/>
<polygon points="462.90,229.25 465.25,231.60 462.90,233.95 460.55,231.60" fill="#f00000" stroke="#3a1010" stroke-width="0.55"/>
<text x="471.20" y="233.30" font-size="4.8" text-anchor="start" fill="#1a1a1a"><tspan font-style="italic">T. pseudonana</tspan><tspan> + </tspan><tspan font-style="italic">S. litoralis</tspan><tspan> + B</tspan><tspan font-size="3.36" dy="1.44">12</tspan><tspan dy="-1.44"></tspan></text>
<path d="M457.40,239.10H468.40" stroke="#222" stroke-width="0.75"/>
<circle cx="462.90" cy="239.10" r="2.1" fill="#000"/>
<text x="471.20" y="240.80" font-size="4.8" text-anchor="start" fill="#1a1a1a"><tspan>Control</tspan></text>
<rect x="579.4" y="214.5" width="89.80" height="134.90" fill="none" stroke="#3a3a3a" stroke-width="0.7"/>
<path d="M577.40,349.40H579.4" stroke="#3a3a3a" stroke-width="0.6"/>
<text x="558.60" y="351.70" font-size="5.1" text-anchor="start" fill="#1a1a1a"><tspan>0.0</tspan></text>
<path d="M577.40,322.40H579.4" stroke="#3a3a3a" stroke-width="0.6"/>
<text x="558.60" y="324.70" font-size="5.1" text-anchor="start" fill="#1a1a1a"><tspan>5.0e+6</tspan></text>
<path d="M577.40,295.40H579.4" stroke="#3a3a3a" stroke-width="0.6"/>
<text x="558.60" y="297.70" font-size="5.1" text-anchor="start" fill="#1a1a1a"><tspan>1.0e+7</tspan></text>
<path d="M577.40,268.40H579.4" stroke="#3a3a3a" stroke-width="0.6"/>
<text x="558.60" y="270.70" font-size="5.1" text-anchor="start" fill="#1a1a1a"><tspan>1.5e+7</tspan></text>
<path d="M577.40,241.40H579.4" stroke="#3a3a3a" stroke-width="0.6"/>
<text x="558.60" y="243.70" font-size="5.1" text-anchor="start" fill="#1a1a1a"><tspan>2.0e+7</tspan></text>
<path d="M577.40,214.50H579.4" stroke="#3a3a3a" stroke-width="0.6"/>
<text x="558.60" y="216.80" font-size="5.1" text-anchor="start" fill="#1a1a1a"><tspan>2.5e+7</tspan></text>
<rect x="588.30" y="344.50" width="7.7" height="4.90" fill="#c0c0c0" stroke="#333" stroke-width="0.6"/>
<rect x="601.12" y="344.50" width="7.7" height="4.90" fill="#ff8c00" stroke="#333" stroke-width="0.6"/>
<rect x="613.94" y="344.50" width="7.7" height="4.90" fill="#ff0000" stroke="#333" stroke-width="0.6"/>
<path d="M630.61,293.40V292.40M628.51,292.40H632.71" stroke="#333" stroke-width="0.55" fill="none"/>
<rect x="626.76" y="293.40" width="7.7" height="56.00" fill="#c0c0c0" stroke="#333" stroke-width="0.6"/>
<path d="M643.43,276.50V274.30M641.33,274.30H645.53" stroke="#333" stroke-width="0.55" fill="none"/>
<rect x="639.58" y="276.50" width="7.7" height="72.90" fill="#ff8c00" stroke="#333" stroke-width="0.6"/>
<path d="M656.25,251.40V242.40M654.15,242.40H658.35" stroke="#333" stroke-width="0.55" fill="none"/>
<rect x="652.40" y="251.40" width="7.7" height="98.00" fill="#ff0000" stroke="#333" stroke-width="0.6"/>
<text x="605.20" y="356.70" font-size="4.7" text-anchor="middle" fill="#1a1a1a"><tspan>Time of</tspan></text>
<text x="605.20" y="362.10" font-size="4.7" text-anchor="middle" fill="#1a1a1a"><tspan>inoculation</tspan></text>
<text x="644.70" y="356.70" font-size="4.7" text-anchor="middle" fill="#1a1a1a"><tspan>Stationary</tspan></text>
<text x="644.70" y="362.10" font-size="4.7" text-anchor="middle" fill="#1a1a1a"><tspan>phase</tspan></text>
<rect x="582.10" y="216.80" width="7.40" height="2.6" fill="#c0c0c0" stroke="#555" stroke-width="0.45"/>
<text x="592.50" y="219.80" font-size="4.72" text-anchor="start" fill="#1a1a1a"><tspan font-style="italic">T. pseudonana</tspan><tspan> + </tspan><tspan font-style="italic">S. litoralis</tspan></text>
<rect x="582.10" y="222.40" width="7.40" height="2.6" fill="#ff8c00" stroke="#555" stroke-width="0.45"/>
<text x="592.50" y="225.40" font-size="4.72" text-anchor="start" fill="#1a1a1a"><tspan font-style="italic">T. pseudonana</tspan><tspan> + </tspan><tspan font-style="italic">S. litoralis</tspan></text>
<text x="592.50" y="230.70" font-size="4.72" text-anchor="start" fill="#1a1a1a"><tspan>+ Substrate</tspan></text>
<rect x="582.10" y="232.60" width="7.40" height="2.6" fill="#ff0000" stroke="#555" stroke-width="0.45"/>
<text x="592.50" y="235.60" font-size="4.72" text-anchor="start" fill="#1a1a1a"><tspan font-style="italic">T. pseudonana</tspan><tspan> + </tspan><tspan font-style="italic">S. litoralis</tspan><tspan> + B</tspan><tspan font-size="3.30" dy="1.42">12</tspan><tspan dy="-1.42"></tspan></text>
<text x="0" y="0" font-size="5.3" text-anchor="middle" fill="#1a1a1a" transform="translate(676.30,282.75) rotate(90)">Bacterial cells ml<tspan font-size="3.7" dy="-2">-1</tspan></text>
</g>
</svg>
</body></html>
